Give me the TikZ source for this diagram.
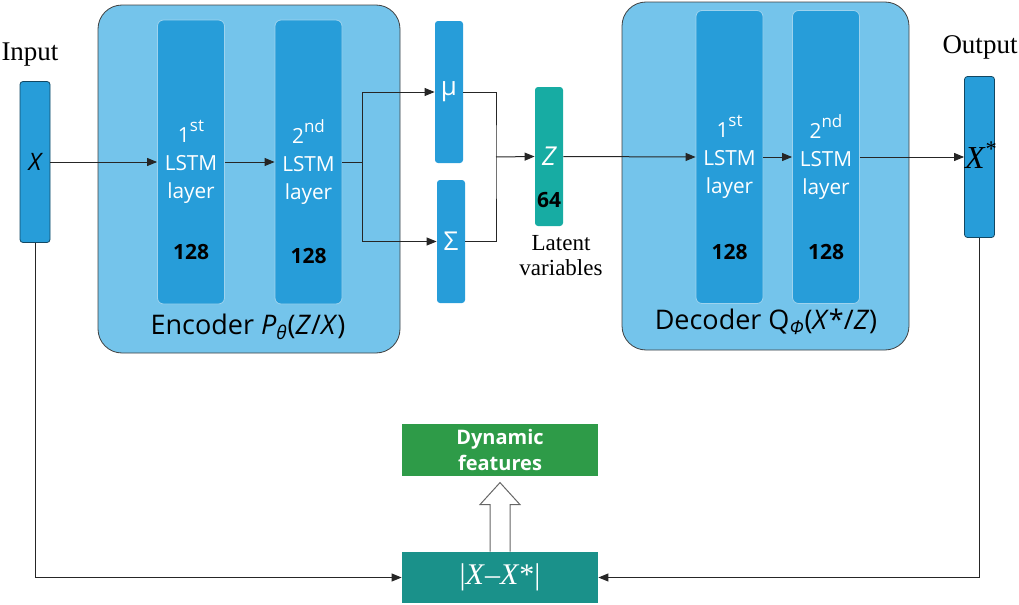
\documentclass[tikz,border=0pt]{standalone}
\usepackage{fontspec}
\setmainfont{Liberation Serif}
\newfontfamily\boxfont{Open Sans}
\usetikzlibrary{calc, positioning, arrows.meta}

\definecolor{outerblue}{HTML}{74C4EB}
\definecolor{layerblue}{HTML}{279DD9}
\definecolor{latentteal}{HTML}{17ACA3}
\definecolor{diffteal}{HTML}{1A918A}
\definecolor{featgreen}{HTML}{2E9B48}

% ordinal suffix on the layer labels
\newcommand{\ordsup}[1]{\raisebox{0.5em}{\fontsize{8.5}{9}\selectfont #1}}

\begin{document}
\begin{tikzpicture}[
    x=0.5pt, y=-0.5pt,
    outer/.style={draw=black!75, fill=outerblue, rounded corners=12pt, minimum width=151pt, minimum height=174pt},
    layer/.style={draw=white!55!layerblue, fill=layerblue, rounded corners=3pt, minimum width=33.5pt, minimum height=142pt, inner sep=0pt, text=white, align=center, font=\boxfont\fontsize{10.4}{14}\selectfont},
    vec/.style={draw=black!55!layerblue, fill=layerblue, rounded corners=1.5pt, minimum width=15pt, minimum height=80.5pt, inner sep=0pt},
    stat/.style={fill=layerblue, rounded corners=1.5pt, minimum width=14pt, inner sep=0pt, text=white, font=\boxfont\fontsize{13}{14}\selectfont},
    num/.style={font=\boxfont\bfseries\fontsize{10.5}{12}\selectfont},
    title/.style={font=\boxfont\fontsize{13.5}{16}\selectfont},
    lbl/.style={align=center, font=\fontsize{13.5}{14}\selectfont},
    arrow/.style={-{Triangle[length=5pt,width=4pt]}, draw=black!85, line width=0.5pt},
    line/.style={draw=black!85, line width=0.5pt}
]
\useasboundingbox (0,0) rectangle (1019,605);

% encoder and decoder blocks
\node[outer] (enc) at (249,179) {};
\node[outer, minimum width=143.5pt] (dec) at (765.5,176) {};

\node[layer] (enc1) at (191,162) {1\ordsup{st}\\LSTM\\layer};
\node[layer] (enc2) at (308.5,162) {2\ordsup{nd}\\LSTM\\layer};
\node[num] at ($(enc1)+(0,90)$) {128};
\node[num] at ($(enc2)+(0,94)$) {128};
\node[title] at (248,327) {Encoder \textit{P}\textsubscript{\textit{θ}}(\textit{Z}/\textit{X})};

\node[layer, minimum height=146.5pt] (dec1) at (729.5,157) {1\ordsup{st}\\LSTM\\layer};
\node[layer, minimum height=146.5pt] (dec2) at (826,157) {2\ordsup{nd}\\LSTM\\layer};
\node[num] at ($(dec1)+(0,95)$) {128};
\node[num] at ($(dec2)+(0,95)$) {128};
\node[title] at (766,322) {Decoder Q\textsubscript{\textit{Φ}}(\textit{X}*/\textit{Z})};

% input and output vectors
\node[vec] (x) at (35,162) {\boxfont\itshape\fontsize{12}{14}\selectfont X};
\node[lbl] at (30,55) {Input};
\node[vec] (xs) at (979.5,157) {};
\node[font=\fontsize{16}{18}\selectfont] at ($(xs)+(2,-2)$) {\textit{X}\textsuperscript{*}};
\node[lbl] at (980,47) {Output};

% latent space
\node[stat, minimum height=71pt] (mu) at (449,92) {μ};
\node[stat, minimum height=61.5pt] (sig) at (451,241.5) {Σ};
\node[stat, fill=latentteal, minimum height=69.5pt] (z) at (549,156.5) {\itshape Z};
\node[num] at ($(z)+(0,43.5)$) {64};
\node[lbl, font=\fontsize{11.5}{12.5}\selectfont] at (561,256) {Latent\\variables};

% residual and features
\node[fill=diffteal, minimum width=98pt, minimum height=25.5pt, text=white, font=\fontsize{15}{16}\selectfont] (diff) at (500,577.5) {|\textit{X}–\textit{X}*|};
\node[fill=featgreen, minimum width=98pt, minimum height=26pt, inner sep=0pt, text=white, align=center, font=\boxfont\bfseries\fontsize{10}{13}\selectfont] (dyn) at (500,450) {Dynamic\\features};

% connections
\draw[arrow] (x.east) -- (enc1.west);
\draw[arrow] (enc1) -- (enc2);
\coordinate (split) at (362,162);
\draw[line] (enc2.east) -- (split);
\draw[arrow] (split) |- (mu.west);
\draw[arrow] (split) |- (sig.west);
\coordinate (merge) at (496,157);
\draw[line] (mu.east) -| (merge) |- (sig.east);
\draw[arrow] (merge) -- (z.west);
\draw[arrow] (z.east) -- (dec1.west);
\draw[arrow] (dec1) -- (dec2);
\draw[arrow] (dec2.east) -- (xs.west);
\draw[arrow] (x.south) |- (diff.west);
\draw[arrow] (xs.south) |- (diff.east);

% hollow arrow up to the features
\draw[draw=black!60, fill=white, line width=0.5pt] ($(diff.north)+(-10,0)$) -- ++(0,-47) -- ++(-10,0) -- ++(20,-22) -- ++(20,22) -- ++(-10,0) -- ++(0,47);

\end{tikzpicture}
\end{document}
